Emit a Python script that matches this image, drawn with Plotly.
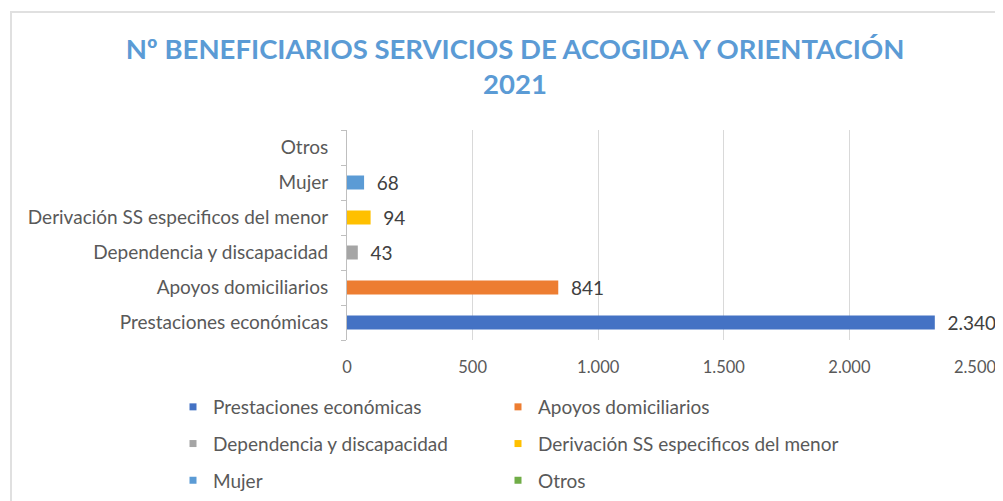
import plotly.graph_objects as go

categories = ["Prestaciones económicas", "Apoyos domiciliarios", "Dependencia y discapacidad",
              "Derivación SS especificos del menor", "Mujer", "Otros"]
values = [2340, 841, 43, 94, 68, 0]
colors = ["#4472C4", "#ED7D31", "#A5A5A5", "#FFC000", "#5B9BD5", "#70AD47"]
x_ticks = [0, 500, 1000, 1500, 2000, 2500]
x_ticklabels = ["0", "500", "1.000", "1.500", "2.000", "2.500"]
title_text = "Nº BENEFICIARIOS SERVICIOS DE ACOGIDA Y ORIENTACIÓN<br>2021"

FONT = "Lato"
GREY = "#595959"

def fmt(v):
    return "\u00a0\u00a0" + f"{v:,}".replace(",", ".") if v else ""

fig = go.Figure()
for cat, val, col in zip(categories, values, colors):
    fig.add_trace(go.Bar(
        y=[cat], x=[val], orientation="h", width=0.4,
        marker=dict(color=col, line=dict(width=0)),
        text=[fmt(val)], textposition="outside", cliponaxis=False, constraintext="none",
        textfont=dict(family=FONT, size=19, color="#404040"),
        showlegend=False, name=cat,
    ))

# legend entries (small square markers) in two columns
col1 = [0, 2, 4]
for idx in range(len(categories)):
    fig.add_trace(go.Scatter(
        x=[None], y=[None], mode="markers", name=categories[idx],
        marker=dict(symbol="square", size=7, color=colors[idx]),
        legend="legend" if idx in col1 else "legend2",
        legendgroup=categories[idx], showlegend=True,
    ))

legend_common = dict(
    orientation="v", xref="container", yref="container", yanchor="top", xanchor="left",
    font=dict(family=FONT, size=19, color=GREY), tracegroupgap=9,
    bgcolor="rgba(0,0,0,0)", itemwidth=30,
)

PL, PR, PT, PB = 339, 36, 122, 169
PW = 1003 - PL - PR
PH = 501 - PT - PB

fig.update_layout(
    width=1003, height=501,
    margin=dict(l=PL, r=PR, t=PT, b=PB, autoexpand=False),
    paper_bgcolor="white", plot_bgcolor="white",
    separators=",.",
    barmode="overlay",
    title=dict(text=title_text, x=(515 - 8) / 1003, xref="container", xanchor="center",
               y=1 - 50.5 / 501, yref="container", yanchor="top",
               font=dict(family=FONT, size=27.5, color="#5B9BD5", weight="bold")),
    xaxis=dict(range=[0, 2500], tickvals=x_ticks, ticktext=x_ticklabels,
               showgrid=True, gridcolor="#D9D9D9", gridwidth=1, zeroline=False,
               showline=False, ticks="", ticklabelstandoff=15,
               tickfont=dict(family=FONT, size=16.5, color=GREY), fixedrange=True,
               automargin=False),
    yaxis=dict(categoryorder="array", categoryarray=categories, type="category",
               showline=True, linecolor="#BFBFBF", linewidth=1,
               ticks="outside", ticklen=5, tickcolor="#BFBFBF", tickson="boundaries",
               ticklabelstandoff=14, showgrid=False, automargin=False,
               tickfont=dict(family=FONT, size=19, color=GREY)),
    legend=dict(x=165 / 1003, y=1 - 380 / 501, **legend_common),
    legend2=dict(x=490 / 1003, y=1 - 380 / 501, **legend_common),
    shapes=[dict(type="rect", xref="paper", yref="paper",
                 x0=(3 - PL) / PW, x1=(1010 - PL) / PW,
                 y0=(PH - (510 - PT)) / PH, y1=(PH + PT - 4) / PH,
                 line=dict(color="#E0E0E0", width=2), layer="below")],
)

fig.write_html("out.html")
